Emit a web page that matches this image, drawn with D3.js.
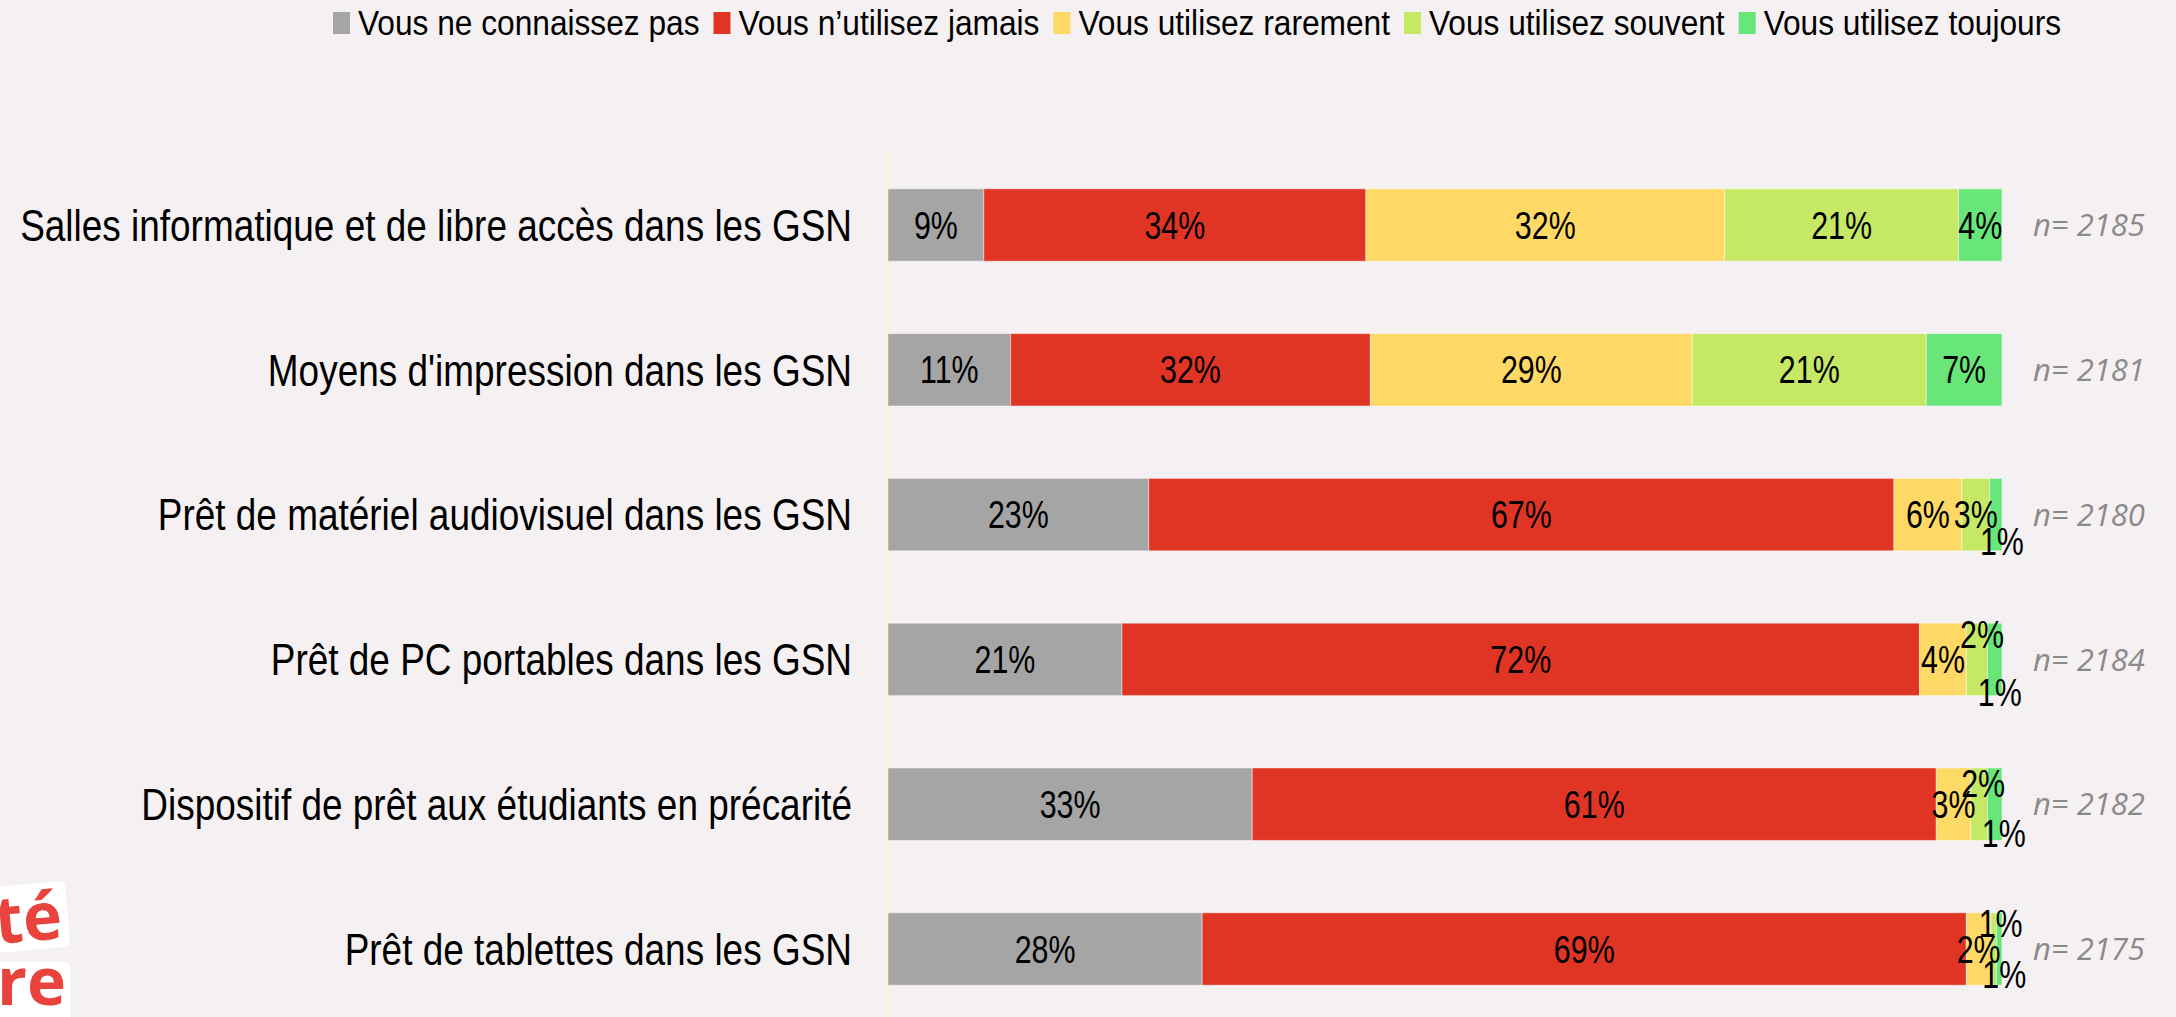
<!DOCTYPE html>
<html>
<head>
<meta charset="utf-8">
<script src="https://cdn.jsdelivr.net/npm/d3@7"></script>
<style>
  html, body { margin: 0; padding: 0; background: #f5f1f2; overflow: hidden; }
  svg { display: block; }
</style>
</head>
<body>
<svg id="chart" width="2176" height="1017"></svg>
<script>
// ---------- DATA ----------
const categories = [
  "Salles informatique et de libre accès dans les GSN",
  "Moyens d'impression dans les GSN",
  "Prêt de matériel audiovisuel dans les GSN",
  "Prêt de PC portables dans les GSN",
  "Dispositif de prêt aux étudiants en précarité",
  "Prêt de tablettes dans les GSN"
];
const seriesNames = [
  "Vous ne connaissez pas",
  "Vous n\u2019utilisez jamais",
  "Vous utilisez rarement",
  "Vous utilisez souvent",
  "Vous utilisez toujours"
];
const pctUnknown = [8.6, 11.0, 23.4, 21.0, 32.7, 28.2];
const pctNever   = [34.3, 32.3, 66.9, 71.6, 61.4, 68.6];
const pctRarely  = [32.2, 28.9, 6.1, 4.2, 3.1, 2.2];
const pctOften   = [21.0, 21.0, 2.5, 1.9, 1.5, 0.5];
const pctAlways  = [3.9, 6.8, 1.1, 1.3, 1.3, 0.5];
const nCounts    = [2185, 2181, 2180, 2184, 2182, 2175];

// ---------- STYLE ----------
const colors = ["#a5a5a5", "#e03525", "#ffd966", "#c6e965", "#69e67a"];
// label nudges (dx, dy) for crowded small segments: key "row-series"
const labelNudge = {
  "2-4": [6, 27],
  "3-3": [5, -25], "3-4": [5, 33],
  "4-3": [4, -21], "4-4": [9, 29],
  "5-3": [7, -26], "5-4": [5, 25]
};
const NARROW = 0.84;     // horizontal condensing for category labels
const LEG_NARROW = 0.88; // horizontal condensing for legend labels

const svg = d3.select("#chart");
const W = 2176, H = 1017;

svg.append("rect").attr("width", W).attr("height", H).attr("fill", "#f5f1f2");

const seriesValues = [pctUnknown, pctNever, pctRarely, pctOften, pctAlways];
const table = categories.map((c, i) => {
  const o = { cat: c, n: nCounts[i] };
  seriesNames.forEach((s, j) => o[s] = seriesValues[j][i]);
  return o;
});
const stacked = d3.stack().keys(seriesNames)(table);

const x = d3.scaleLinear().domain([0, 100]).range([888, 2002]);
const y = d3.scaleBand().domain(categories).range([152.6, 1021.4])
  .paddingInner(0.5).paddingOuter(0.25);

const FONT = "'Liberation Sans', Arial, sans-serif";

// axis line
svg.append("line")
  .attr("x1", 886.5).attr("x2", 886.5)
  .attr("y1", 153).attr("y2", H)
  .attr("stroke", "#fff2cc").attr("stroke-width", 2);

// bars
const layers = svg.append("g").selectAll("g").data(stacked).join("g")
  .attr("fill", (d, i) => colors[i]);
layers.selectAll("rect").data(d => d).join("rect")
  .attr("x", d => x(d[0]))
  .attr("y", d => y(d.data.cat))
  .attr("width", d => x(d[1]) - x(d[0]))
  .attr("height", y.bandwidth())
  .attr("stroke", "#ffffff").attr("stroke-opacity", 0.45).attr("stroke-width", 1);

// value labels
const labG = svg.append("g");
stacked.forEach((layer, j) => {
  layer.forEach((d, i) => {
    const nud = labelNudge[i + "-" + j] || [0, 0];
    const cx = (x(d[0]) + x(d[1])) / 2 + nud[0];
    const cy = y(d.data.cat) + y.bandwidth() / 2 + nud[1];
    labG.append("g")
      .attr("transform", `translate(${cx},${cy}) scale(0.8,1)`)
      .append("text")
      .attr("text-anchor", "middle")
      .attr("dy", "0.36em")
      .attr("font-family", FONT)
      .attr("font-size", 38)
      .attr("fill", "#000")
      .text(Math.round(d[1] - d[0]) + "%");
  });
});

// category labels
const yAxis = d3.axisLeft(y).tickSize(0).tickPadding(0);
const yg = svg.append("g").attr("transform", "translate(852,0)").call(yAxis);
yg.select(".domain").remove();
yg.selectAll("text")
  .attr("font-family", FONT)
  .attr("font-size", 44)
  .attr("fill", "#000")
  .attr("x", 0)
  .attr("dy", "0.36em")
  .attr("transform", `scale(${NARROW},1)`);

// n= labels
svg.append("g").selectAll("text").data(table).join("text")
  .attr("x", 2033)
  .attr("y", d => y(d.cat) + y.bandwidth() / 2)
  .attr("dy", "0.36em")
  .attr("font-family", "'Open Sans', sans-serif")
  .attr("font-style", "italic")
  .attr("font-size", 31)
  .attr("fill", "#8a8a8a")
  .text(d => "n= " + d.n);

// legend
const leg = svg.append("g");
let lx = 333;
seriesNames.forEach((s, i) => {
  leg.append("rect").attr("x", lx).attr("y", 12).attr("width", 17).attr("height", 22)
    .attr("fill", colors[i]);
  const tg = leg.append("g").attr("transform", `translate(${lx + 25},35) scale(${LEG_NARROW},1)`);
  const t = tg.append("text")
    .attr("x", 0).attr("y", 0)
    .attr("font-family", FONT).attr("font-size", 36).attr("fill", "#000")
    .text(s);
  lx = lx + 25 + t.node().getComputedTextLength() * LEG_NARROW + 14;
});

// partial logo bottom-left
const logo = svg.append("g");
const g1 = logo.append("g").attr("transform", "rotate(-5,30,920)");
g1.append("rect").attr("x", -20).attr("y", 884).attr("width", 88).attr("height", 66)
  .attr("rx", 6).attr("fill", "#ffffff");
g1.append("text").attr("x", 62).attr("y", 941).attr("text-anchor", "end")
  .attr("font-family", "'Open Sans', sans-serif").attr("font-weight", 700)
  .attr("font-size", 66).attr("fill", "#e8433d").text("té");
logo.append("rect").attr("x", -20).attr("y", 962).attr("width", 90).attr("height", 70)
  .attr("rx", 6).attr("fill", "#ffffff");
logo.append("text").attr("x", 66).attr("y", 1005).attr("text-anchor", "end")
  .attr("font-family", "'Open Sans', sans-serif").attr("font-weight", 700)
  .attr("font-size", 66).attr("fill", "#e8433d").text("re");
</script>
</body>
</html>
